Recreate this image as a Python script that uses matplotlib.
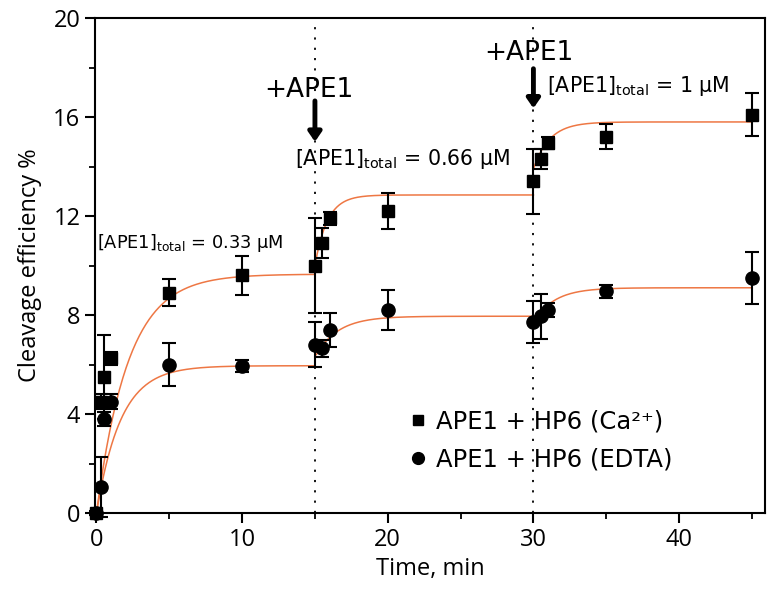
import numpy as np
import matplotlib
matplotlib.use("Agg")
import matplotlib.pyplot as plt
from matplotlib.ticker import MultipleLocator
from matplotlib.lines import Line2D

plt.rcParams['font.family'] = ['Open Sans', 'DejaVu Sans']
plt.rcParams['mathtext.default'] = 'regular'

# ---- data ----
t_ca = [0, 0.33, 0.5, 1, 5, 10, 15, 15.5, 16, 20, 30, 30.5, 31, 35, 45]
y_ca = [0, 4.5, 5.5, 6.25, 8.9, 9.6, 10.0, 10.9, 11.9, 12.2, 13.4, 14.3, 14.95, 15.2, 16.1]
e_ca = [0.1, 0.3, 1.7, 0.25, 0.55, 0.8, 1.9, 0.6, 0.25, 0.73, 1.3, 0.4, 0.25, 0.5, 0.85]

t_ed = [0, 0.33, 0.5, 1, 5, 10, 15, 15.5, 16, 20, 30, 30.5, 31, 35, 45]
y_ed = [0, 1.05, 3.8, 4.5, 6.0, 5.95, 6.8, 6.65, 7.4, 8.2, 7.7, 7.95, 8.2, 8.95, 9.5]
e_ed = [0.05, 1.2, 0.3, 0.3, 0.85, 0.25, 0.9, 0.35, 0.7, 0.8, 0.85, 0.9, 0.3, 0.25, 1.05]

# fitted single-exponential segments: (start time, end time, start value, plateau, rate)
fit_ca_t0 = [0, 15, 30]
fit_ca_t1 = [15, 30, 45]
fit_ca_y0 = [0, 10.0, 13.9]
fit_ca_ymax = [9.65, 12.85, 15.8]
fit_ca_k = [0.46, 1.17, 0.9]

fit_ed_t0 = [0, 15.1, 30]
fit_ed_t1 = [15, 30, 45]
fit_ed_y0 = [0, 6.4, 7.7]
fit_ed_ymax = [5.95, 7.95, 9.1]
fit_ed_k = [0.6, 0.65, 0.7]

addition_times = [15, 30]
xticks = [0, 10, 20, 30, 40]
yticks = [0, 4, 8, 12, 16, 20]
labels = ['APE1 + HP6 (Ca²⁺)', 'APE1 + HP6 (EDTA)']

fig = plt.figure(figsize=(7.76, 5.96), dpi=100)
ax = fig.add_axes([95/776, 83/596, 670/776, 495/596])

curve_color = '#EE7744'
for t0, t1, y0, ym, k in zip(fit_ca_t0, fit_ca_t1, fit_ca_y0, fit_ca_ymax, fit_ca_k):
    tt = np.linspace(t0, t1, 200)
    ax.plot(tt, y0 + (ym - y0) * (1 - np.exp(-k * (tt - t0))), color=curve_color, lw=1.1, zorder=2)
for t0, t1, y0, ym, k in zip(fit_ed_t0, fit_ed_t1, fit_ed_y0, fit_ed_ymax, fit_ed_k):
    tt = np.linspace(t0, t1, 200)
    ax.plot(tt, y0 + (ym - y0) * (1 - np.exp(-k * (tt - t0))), color=curve_color, lw=1.1, zorder=2)

for xv in addition_times:
    ax.axvline(xv, color='black', lw=1.3, linestyle=(0, (1.2, 4.5)), zorder=1)

ax.errorbar(t_ca, y_ca, yerr=e_ca, fmt='s', color='black', ms=8, capsize=5,
            elinewidth=1.5, capthick=1.5, zorder=3, clip_on=False)
ax.errorbar(t_ed, y_ed, yerr=e_ed, fmt='o', color='black', ms=9.5, capsize=5,
            elinewidth=1.5, capthick=1.5, zorder=3, clip_on=False)

ax.set_xlim(-0.1, 45.9)
ax.set_ylim(0, 20)
ax.set_xticks(xticks)
ax.set_yticks(yticks)
ax.xaxis.set_minor_locator(MultipleLocator(5))
ax.yaxis.set_minor_locator(MultipleLocator(2))
ax.tick_params(which='major', direction='out', length=7, width=1.5, labelsize=17, colors='black')
ax.tick_params(which='minor', direction='out', length=4, width=1.3)
for s in ax.spines.values():
    s.set_linewidth(1.5)

ax.set_xlabel('Time, min', fontsize=17, labelpad=4)
ax.set_ylabel('Cleavage efficiency %', fontsize=17, labelpad=8)

# annotations
ann_font = ['DejaVu Sans']
arrow_kw = dict(arrowstyle='-|>,head_length=0.55,head_width=0.38', lw=3.5, color='black',
                shrinkA=0, shrinkB=0)
ax.annotate('', xy=(15, 15.0), xytext=(15, 16.65), arrowprops=arrow_kw)
ax.annotate('', xy=(30, 16.35), xytext=(30, 17.95), arrowprops=arrow_kw)
ax.text(14.6, 17.1, '+APE1', fontsize=19, ha='center', va='center', family=ann_font)
ax.text(29.7, 18.6, '+APE1', fontsize=19, ha='center', va='center', family=ann_font)

ax.text(0.05, 10.9, r'[APE1]$_{total}$ = 0.33 µM', fontsize=12.8, ha='left', va='center', family=ann_font)
ax.text(13.65, 14.3, r'[APE1]$_{total}$ = 0.66 µM', fontsize=14.8, ha='left', va='center', family=ann_font)
ax.text(30.9, 17.25, r'[APE1]$_{total}$ = 1 µM', fontsize=14.8, ha='left', va='center', family=ann_font)

handles = [Line2D([], [], marker='s', color='black', linestyle='none', ms=7),
           Line2D([], [], marker='o', color='black', linestyle='none', ms=8.5)]
leg = ax.legend(handles, labels, loc='upper left', bbox_to_anchor=(0.455, 0.228), frameon=False,
                prop={'family': ann_font, 'size': 17.5}, handlelength=0.7, handletextpad=0.4,
                labelspacing=0.55, borderaxespad=0)

fig.savefig('out.png', dpi=100)
